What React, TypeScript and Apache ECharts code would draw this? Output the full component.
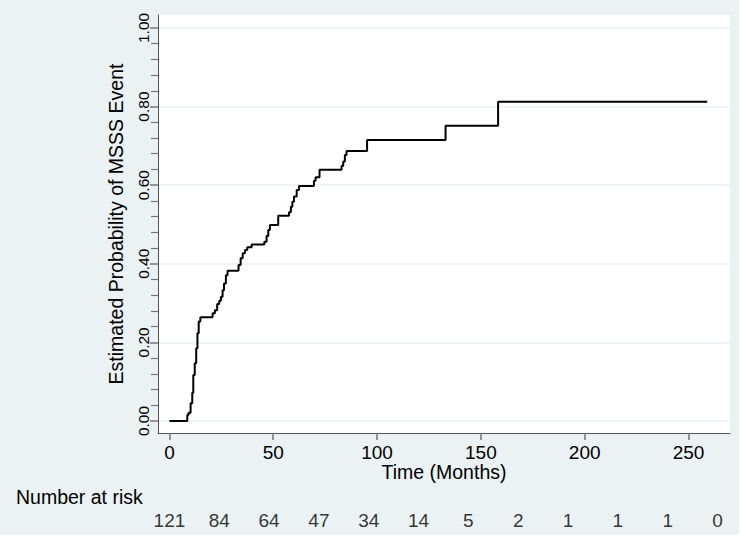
import React, { useEffect, useRef } from "react";
import * as echarts from "echarts";

// Kaplan–Meier cumulative incidence (step points: time in months, probability after event)
const eventTimes = [
  0, 8.6, 9.2, 10.2, 11.0, 11.5, 12.2, 12.9, 13.5, 14.1, 14.9, 20.8, 21.9, 23.0, 24.0, 24.8,
  25.6, 26.3, 27.2, 28.0, 33.3, 34.3, 35.3, 36.4, 37.5, 39.6, 45.7, 46.8, 47.6, 48.4, 52.4,
  57.6, 58.5, 59.2, 60.0, 61.3, 62.4, 69.6, 70.4, 72.3, 82.9, 83.7, 84.5, 85.3, 95.2, 133.0,
  158.3, 259,
];
const eventProbs = [
  0, 0.015, 0.021, 0.045, 0.072, 0.117, 0.147, 0.185, 0.223, 0.253, 0.264, 0.274, 0.282, 0.298,
  0.306, 0.316, 0.333, 0.35, 0.371, 0.382, 0.397, 0.414, 0.427, 0.435, 0.442, 0.449, 0.456,
  0.471, 0.486, 0.499, 0.522, 0.531, 0.545, 0.558, 0.571, 0.588, 0.598, 0.611, 0.62, 0.639,
  0.649, 0.66, 0.677, 0.687, 0.715, 0.751, 0.812, 0.812,
];

const xTicks = [0, 50, 100, 150, 200, 250];
const yTicks = [0, 0.2, 0.4, 0.6, 0.8, 1.0];
const yMinorTicks = [
  0.04, 0.08, 0.12, 0.16, 0.24, 0.28, 0.32, 0.36, 0.44, 0.48, 0.52, 0.56, 0.64, 0.68, 0.72,
  0.76, 0.84, 0.88, 0.92, 0.96,
];

const riskTimes = [0, 24, 48, 72, 96, 120, 144, 168, 192, 216, 240, 264];
const riskCounts = [121, 84, 64, 47, 34, 14, 5, 2, 1, 1, 1, 0];

const FONT = "'Liberation Sans', Arial, sans-serif";

export default function App() {
  const ref = useRef<HTMLDivElement>(null);

  useEffect(() => {
    document.body.style.margin = "0";
    const chart = echarts.init(ref.current!, null, { renderer: "svg" });
    const xMin = -5.5;
    const xMax = 270;
    const yMin = -0.0305;
    const yMax = 1.033;

    chart.setOption({
      animation: false,
      backgroundColor: "#EAF2F3",
      textStyle: { fontFamily: FONT, color: "#000" },
      graphic: [
        {
          type: "text",
          left: 16,
          top: 487,
          style: { text: "Number at risk", fontSize: 19.5, fontFamily: FONT, fill: "#000" },
        },
      ],
      grid: [
        {
          left: 158,
          right: 9,
          top: 15,
          bottom: 102,
          show: true,
          backgroundColor: "#ffffff",
          borderWidth: 0,
        },
        { left: 158, right: 9, top: 505, height: 30, show: false },
      ],
      xAxis: [
        {
          type: "value",
          gridIndex: 0,
          min: xMin,
          max: xMax,
          axisLine: { show: true, onZero: false, lineStyle: { color: "#555", width: 1 } },
          axisTick: { show: true, customValues: xTicks, length: 7, lineStyle: { color: "#777", width: 1.5 } },
          axisLabel: {
            customValues: xTicks,
            fontSize: 19,
            color: "#000",
            fontFamily: FONT,
            margin: 10,
          },
          splitLine: { show: false },
          name: "Time (Months)",
          nameLocation: "middle",
          nameGap: 29,
          nameMoveOverlap: false,
          nameTextStyle: { fontSize: 19.5, color: "#000", fontFamily: FONT },
        },
        { type: "value", gridIndex: 1, min: xMin, max: xMax, show: false },
      ],
      yAxis: [
        {
          type: "value",
          gridIndex: 0,
          position: "left",
          min: yMin,
          max: yMax,
          axisLine: { show: true, onZero: false, lineStyle: { color: "#555", width: 1 } },
          axisTick: { show: true, customValues: yTicks, length: 8, lineStyle: { color: "#777", width: 1.5 } },
          axisLabel: {
            customValues: yTicks,
            rotate: 90,
            fontSize: 15.5,
            color: "#000",
            fontFamily: FONT,
            margin: 7,
            formatter: (v: number) => v.toFixed(2),
          },
          splitLine: { show: true, lineStyle: { color: "#EAF2F3", width: 1.5 } },
          name: "Estimated Probability of MSSS Event",
          nameLocation: "middle",
          nameRotate: 90,
          nameGap: 32,
          nameMoveOverlap: false,
          nameTextStyle: { fontSize: 19.5, color: "#000", fontFamily: FONT },
        },
        {
          type: "value",
          gridIndex: 0,
          position: "left",
          min: yMin,
          max: yMax,
          axisLine: { show: false, onZero: false },
          axisTick: { show: true, customValues: yMinorTicks, length: 7, lineStyle: { color: "#777", width: 1.2 } },
          axisLabel: { show: false },
          splitLine: { show: false },
        },
        { type: "value", gridIndex: 1, min: -1, max: 1, show: false },
      ],
      series: [
        {
          type: "line",
          xAxisIndex: 0,
          yAxisIndex: 0,
          step: "end",
          showSymbol: false,
          symbol: "none",
          lineStyle: { color: "#000", width: 2 },
          data: eventTimes.map((t, i) => [t, eventProbs[i]]),
          z: 3,
        },
        {
          type: "scatter",
          xAxisIndex: 1,
          yAxisIndex: 2,
          symbolSize: 1,
          itemStyle: { color: "transparent" },
          label: {
            show: true,
            position: "inside",
            fontSize: 19,
            color: "#000",
            fontFamily: FONT,
            formatter: (p: any) => String(p.value[2]),
          },
          data: riskTimes.map((t, i) => [t, 0, riskCounts[i]]),
        },
      ],
    });
    return () => chart.dispose();
  }, []);

  return (
    <div style={{ position: "absolute", left: 0, top: 0, width: 742, height: 542, background: "#fff" }}>
      <div ref={ref} style={{ width: 739, height: 535 }} />
    </div>
  );
}
